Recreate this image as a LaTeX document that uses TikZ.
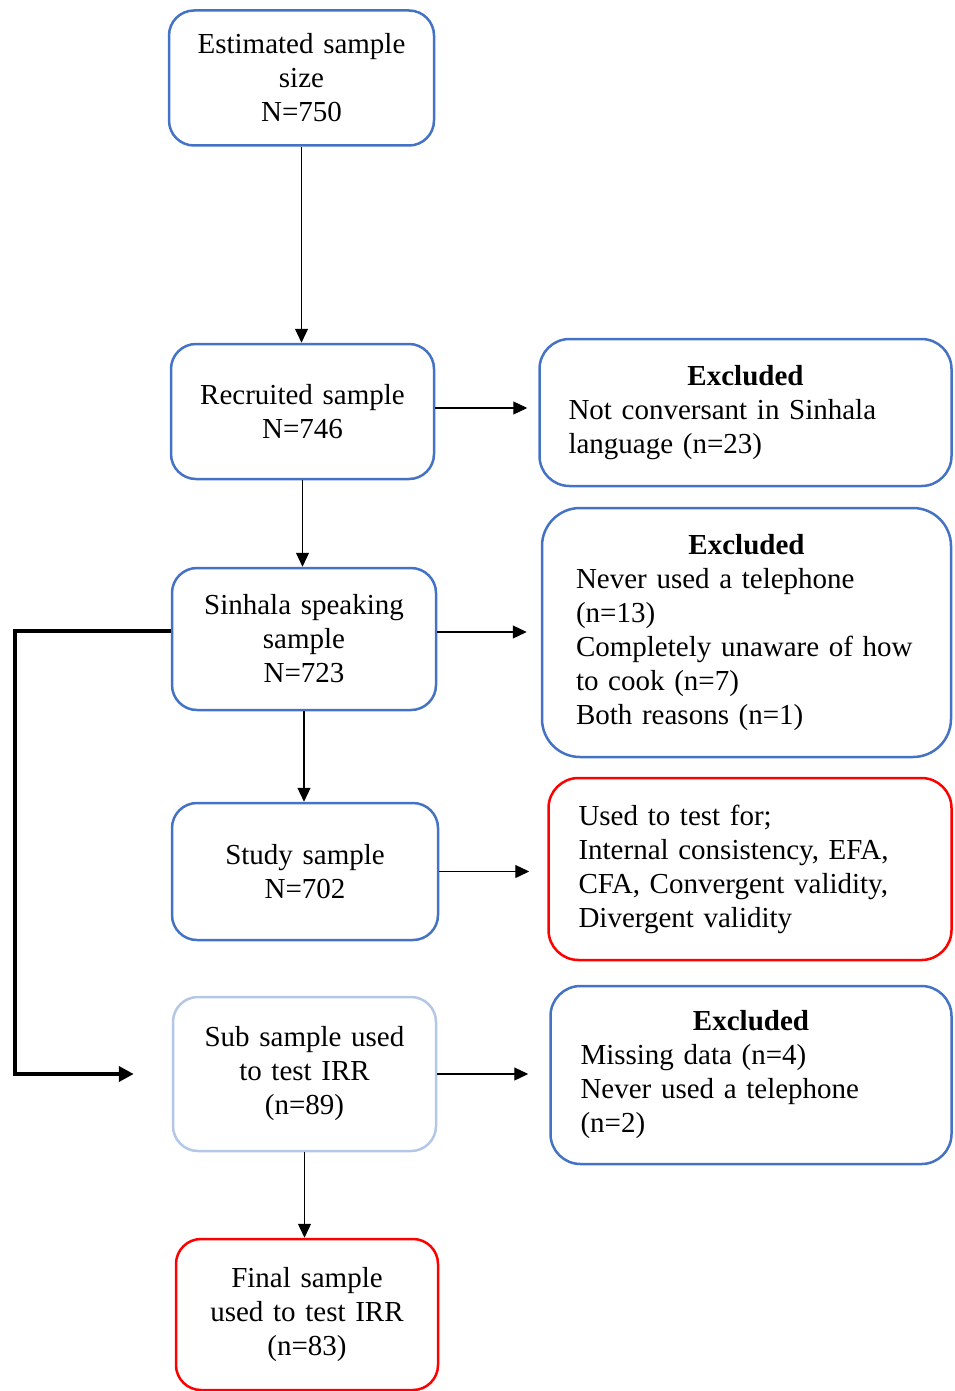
\documentclass[tikz,border=0pt]{standalone}
\usepackage{fontspec}
\setmainfont{Liberation Serif}
\usetikzlibrary{arrows.meta}
\definecolor{boxblue}{HTML}{4472C4}
\definecolor{paleblue}{HTML}{B4C7E7}
\definecolor{boxred}{HTML}{FF0000}
\newcommand{\exhead}{\hspace*{\fill}\textbf{Excluded}\hspace*{\fill}\null}
\begin{document}
\begin{tikzpicture}[x=1pt, y=-1pt, font=\fontsize{29}{34}\selectfont,
	stage/.style={draw=boxblue, line width=2.5pt, rounded corners=25pt, align=center, inner sep=0pt},
	excl/.style={draw=boxblue, line width=2.5pt, rounded corners=30pt, align=left, inner ysep=0pt},
	flow/.style={-{Triangle[length=14pt,width=13pt]}, line width=1.2pt},
	loop/.style={-{Triangle[length=15pt,width=15pt]}, line width=4pt}]
	\useasboundingbox (0,0) rectangle (954,1391);
	% main column
	\node[stage, minimum width=265pt, minimum height=135pt, text width=245pt] (est) at (301.5,78) {Estimated sample\\size\\N=750};
	\node[stage, minimum width=263pt, minimum height=135pt, text width=243pt] (rec) at (302.5,411.5) {Recruited sample\\N=746};
	\node[stage, minimum width=264pt, minimum height=142pt, text width=244pt] (sin) at (304,639) {Sinhala speaking\\sample\\N=723};
	\node[stage, minimum width=266pt, minimum height=137pt, text width=246pt] (stu) at (305,871.5) {Study sample\\N=702};
	\node[stage, draw=paleblue, minimum width=263pt, minimum height=154pt, text width=243pt] (sub) at (304.5,1074) {Sub sample used\\to test IRR\\(n=89)};
	\node[stage, draw=boxred, minimum width=262pt, minimum height=151pt, text width=242pt] (fin) at (307,1314.5) {Final sample\\used to test IRR\\(n=83)};
	% side boxes
	\node[excl, minimum height=147pt, inner xsep=29pt, text width=354pt] (exa) at (745.5,412.5) {\exhead\\Not conversant in Sinhala\\language (n=23)};
	\node[excl, rounded corners=38pt, minimum height=249pt, inner xsep=34pt, text width=341pt] (exb) at (746.5,632.5) {\exhead\\Never used a telephone\\(n=13)\\Completely unaware of how\\to cook (n=7)\\Both reasons (n=1)};
	\node[excl, draw=boxred, minimum height=182pt, inner xsep=30pt, text width=343pt] (tests) at (750,869) {Used to test for;\\Internal consistency, EFA,\\CFA, Convergent validity,\\Divergent validity};
	\node[excl, minimum height=178pt, inner xsep=30pt, text width=341pt] (exc) at (751,1075) {\exhead\\Missing data (n=4)\\Never used a telephone\\(n=2)};
	% arrows
	\draw[flow] (est.south) -- (est.south |- rec.north);
	\draw[flow] (rec.south) -- (rec.south |- sin.north);
	\draw[flow] (sin.south) -- (sin.south |- stu.north);
	\draw[flow] (sub.south) -- (sub.south |- fin.north);
	\draw[flow, shorten >=11pt] ([yshift=3.5pt]rec.east) -- ([yshift=3.5pt]rec.east -| exa.west);
	\draw[flow, shorten >=14pt] ([yshift=7pt]sin.east) -- ([yshift=7pt]sin.east -| exb.west);
	\draw[flow, shorten >=18pt] (stu.east) -- (stu.east -| tests.west);
	\draw[flow, shorten >=21pt] (sub.east) -- (sub.east -| exc.west);
	\coordinate (bend) at (15,0);
	\draw[loop, shorten >=38pt] ([yshift=8pt]sin.west) -- ([yshift=8pt]sin.west -| bend) |- (sub.west);
\end{tikzpicture}
\end{document}
